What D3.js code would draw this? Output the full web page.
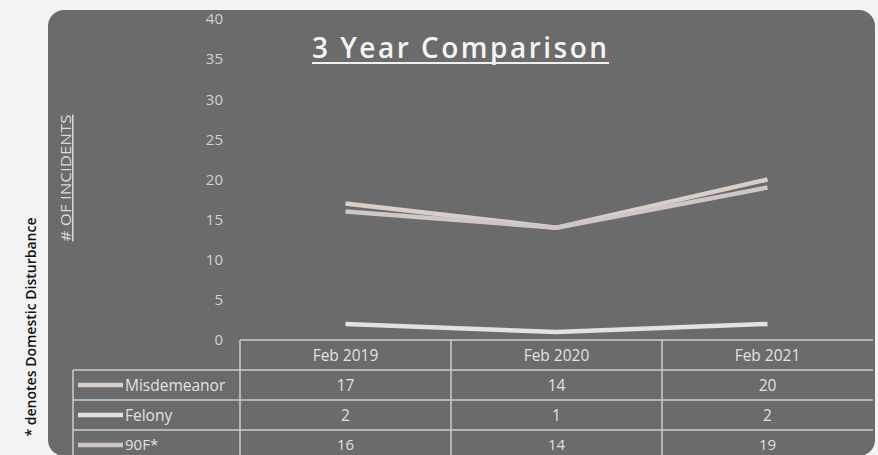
<!DOCTYPE html>
<html><head><meta charset="utf-8">
<script src="https://cdn.jsdelivr.net/npm/d3@7"></script>
<style>body{margin:0;background:#f3f3f3;} svg{display:block;}</style>
</head><body>
<svg id="c" width="878" height="455"></svg>
<script>
const categories = ["Feb 2019", "Feb 2020", "Feb 2021"];
const seriesNames = ["Misdemeanor", "Felony", "90F*"];
const misdemeanor = [17, 14, 20];
const felony = [2, 1, 2];
const f90 = [16, 14, 19];
const yTicks = [0, 5, 10, 15, 20, 25, 30, 35, 40];
const seriesColors = ["#d8d0c8", "#e2e2e2", "#cfc7c7"];

const series = [misdemeanor, felony, f90].map((v, i) => ({name: seriesNames[i], values: v, color: seriesColors[i]}));

const svg = d3.select("#c");
const font = "'Open Sans', 'Liberation Sans', sans-serif";

// panel
svg.append("rect").attr("x", 48).attr("y", 10).attr("width", 827).attr("height", 446)
  .attr("rx", 16).attr("fill", "#6b6b6b");

const x = d3.scaleBand().domain(categories).range([240, 873]);
const y = d3.scaleLinear().domain([0, 40]).range([340, 19]);

// faint grid
svg.append("g").selectAll("line").data(yTicks).join("line")
  .attr("x1", 240).attr("x2", 873).attr("y1", d => y(d)).attr("y2", d => y(d))
  .attr("stroke", "#ffffff").attr("stroke-opacity", 0.04);

// y axis labels
const yAxis = d3.axisLeft(y).tickValues(yTicks).tickSize(0).tickPadding(0);
const ya = svg.append("g").attr("transform", "translate(223,0)").call(yAxis);
ya.select(".domain").remove();
ya.selectAll("text").attr("fill", "#d2d2d2").attr("font-size", 15).attr("font-family", font);

// title
svg.append("text").attr("x", 459.5).attr("y", 58).attr("text-anchor", "middle")
  .attr("fill", "#f4f4f4").attr("font-size", 28).attr("font-weight", 600).attr("font-family", font)
  .attr("textLength", 295).attr("lengthAdjust", "spacing")
  .text("3 Year Comparison");
svg.append("line").attr("x1", 312).attr("x2", 609).attr("y1", 63).attr("y2", 63)
  .attr("stroke", "#f0f0f0").attr("stroke-width", 2);

// axis title
svg.append("text").attr("transform", "translate(71,178) rotate(-90)").attr("text-anchor", "middle")
  .attr("fill", "#dadada").attr("font-size", 15).attr("font-family", font)
  .attr("textLength", 127).attr("lengthAdjust", "spacingAndGlyphs")
  .attr("text-decoration", "underline").text("# OF INCIDENTS");

// footnote
svg.append("text").attr("transform", "translate(36,327) rotate(-90)").attr("text-anchor", "middle")
  .attr("fill", "#111").attr("font-size", 13.5).attr("font-weight", 600).attr("font-family", font)
  .attr("textLength", 219).attr("lengthAdjust", "spacingAndGlyphs")
  .text("* denotes Domestic Disturbance");

// lines
const line = d3.line().x((d, i) => x(categories[i]) + x.bandwidth() / 2).y(d => y(d));
svg.append("g").selectAll("path").data(series).join("path")
  .attr("d", d => line(d.values)).attr("fill", "none")
  .attr("stroke", d => d.color).attr("stroke-width", 4.5);

// data table
const tableTop = y(0), rowH = 30, legendLeft = 73, right = 873;
const tg = svg.append("g").attr("stroke", "#cdcdcd").attr("stroke-width", 1.5);
tg.append("line").attr("x1", x.range()[0]).attr("x2", right).attr("y1", tableTop).attr("y2", tableTop);
[1, 2, 3].forEach(r => {
  tg.append("line").attr("x1", legendLeft).attr("x2", right)
    .attr("y1", tableTop + r * rowH).attr("y2", tableTop + r * rowH);
});
categories.forEach(c => {
  tg.append("line").attr("x1", x(c)).attr("x2", x(c)).attr("y1", tableTop).attr("y2", 456);
});
tg.append("line").attr("x1", legendLeft).attr("x2", legendLeft).attr("y1", tableTop + rowH).attr("y2", 456);

// header labels
svg.append("g").selectAll("text").data(categories).join("text")
  .attr("x", d => x(d) + x.bandwidth() / 2).attr("y", tableTop + rowH / 2 + 5.5)
  .attr("text-anchor", "middle").attr("fill", "#e2e2e2").attr("font-size", 15.5).attr("font-family", font)
  .text(d => d);

// rows
series.forEach((s, r) => {
  const cy = tableTop + (r + 1) * rowH + rowH / 2;
  const fs = r === 2 ? 15 : 15.5;
  const by = r === 2 ? cy + 4.5 : cy + 5.5;
  svg.append("line").attr("x1", 78).attr("x2", 123).attr("y1", cy).attr("y2", cy)
    .attr("stroke", s.color).attr("stroke-width", 4.5);
  svg.append("text").attr("x", 125).attr("y", by).attr("fill", "#e2e2e2")
    .attr("font-size", fs).attr("font-family", font).text(s.name);
  svg.append("g").selectAll("text").data(s.values).join("text")
    .attr("x", (d, i) => x(categories[i]) + x.bandwidth() / 2).attr("y", by)
    .attr("text-anchor", "middle").attr("fill", "#e2e2e2").attr("font-size", fs).attr("font-family", font)
    .text(d => d);
});
</script>
</body></html>
